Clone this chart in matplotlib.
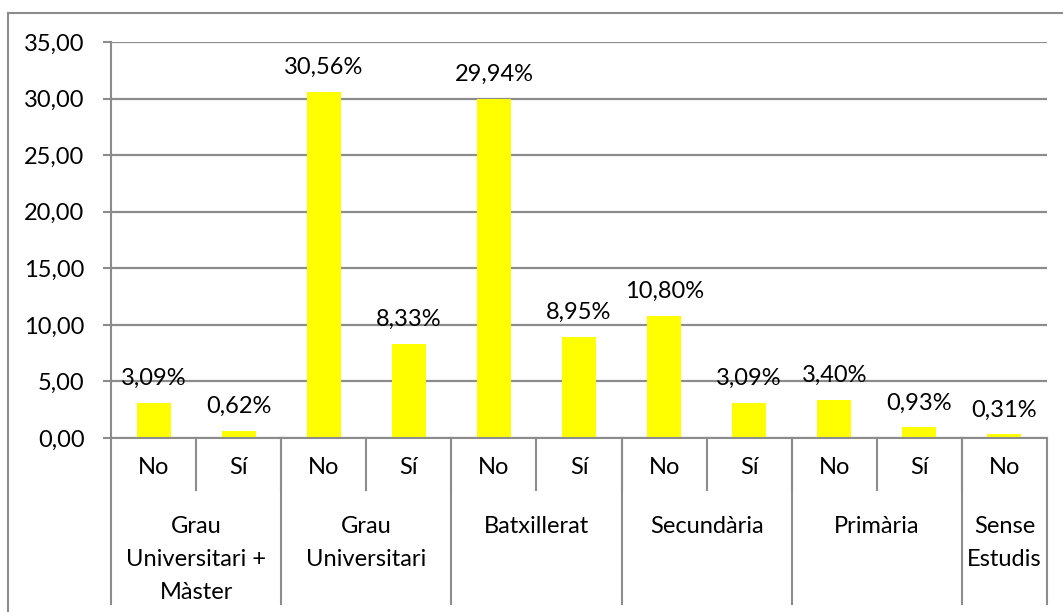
import matplotlib.pyplot as plt
from matplotlib.lines import Line2D

# Percentages by education level and answer
groups = ['Grau\nUniversitari +\nMàster', 'Grau\nUniversitari', 'Batxillerat',
          'Secundària', 'Primària', 'Sense\nEstudis']
group_sizes = [2, 2, 2, 2, 2, 1]
answers = ['No', 'Sí', 'No', 'Sí', 'No', 'Sí', 'No', 'Sí', 'No', 'Sí', 'No']
values = [3.09, 0.62, 30.56, 8.33, 29.94, 8.95, 10.80, 3.09, 3.40, 0.93, 0.31]
yticks = [0, 5, 10, 15, 20, 25, 30, 35]

plt.rcParams['font.family'] = ['Lato', 'DejaVu Sans']
grey = '#8c8c8c'
fs = 17

fig = plt.figure(figsize=(10.63, 6.12), dpi=100)
ax = fig.add_axes([111 / 1063, 1 - 438 / 612, (1047 - 111) / 1063, 396 / 612])

x = list(range(len(values)))
ax.bar(x, values, width=0.4, color='#ffff00', zorder=2)

# value labels above each bar
for xi, v in zip(x, values):
    ax.annotate(f'{v:.2f}%'.replace('.', ','), (xi, v), xytext=(0, 13),
                textcoords='offset points', ha='center', va='baseline',
                fontsize=fs, zorder=3)

ax.set_xlim(-0.5, len(values) - 0.5)
ax.set_ylim(0, 35)
ax.set_yticks(yticks)
ax.set_yticklabels([f'{t:.2f}'.replace('.', ',') for t in yticks], fontsize=fs)
ax.tick_params(axis='y', length=6, width=1.5, color=grey, pad=13)
ax.set_xticks([])
ax.yaxis.grid(True, color=grey, linewidth=1.6, zorder=1)
ax.set_axisbelow(True)
for s in ['top', 'right']:
    ax.spines[s].set_visible(False)
for s in ['left', 'bottom']:
    ax.spines[s].set_color(grey)
    ax.spines[s].set_linewidth(1.5)

# two-level category axis
tr = ax.get_xaxis_transform()
sub_bottom = -0.131
group_bottom = -0.42
for xi, a in zip(x, answers):
    ax.text(xi, -0.074, a, transform=tr, ha='center', va='center', fontsize=fs)
    if xi > 0:
        ax.add_line(Line2D([xi - 0.5, xi - 0.5], [0, sub_bottom], transform=tr,
                           color=grey, lw=1.5, clip_on=False))

start = -0.5
ax.add_line(Line2D([start, start], [0, group_bottom], transform=tr,
                   color=grey, lw=1.5, clip_on=False))
for g, n in zip(groups, group_sizes):
    end = start + n
    ax.text((start + end) / 2, -0.198, g, transform=tr, ha='center', va='top',
            fontsize=fs, linespacing=1.68)
    ax.add_line(Line2D([end, end], [0, group_bottom], transform=tr,
                       color=grey, lw=1.5, clip_on=False))
    start = end

# chart frame
fig.add_artist(Line2D([8 / 1063, 8 / 1063], [0, 1 - 13 / 612], color=grey, lw=1.5))
fig.add_artist(Line2D([8 / 1063, 1], [1 - 13 / 612, 1 - 13 / 612], color=grey, lw=1.5))

fig.savefig('out.png', dpi=100)
